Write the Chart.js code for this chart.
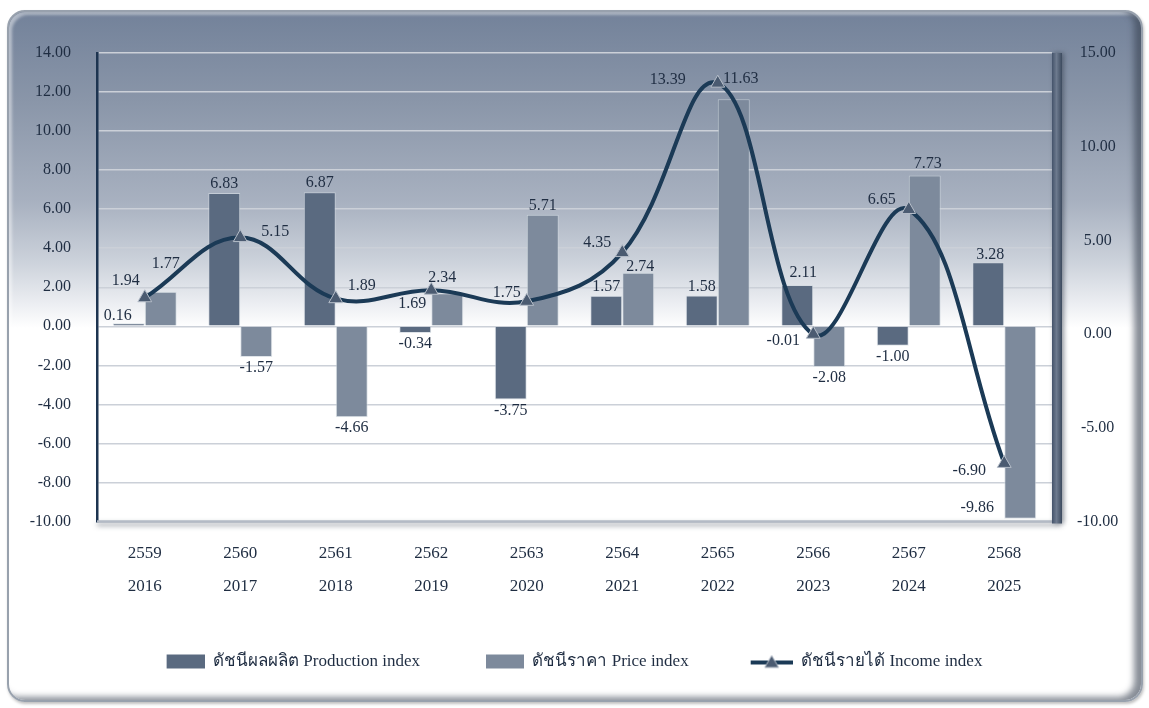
<!DOCTYPE html>
<html>
<head>
<meta charset="utf-8">
<title>ดัชนีผลผลิต ราคา และรายได้</title>
<script src="https://cdn.jsdelivr.net/npm/chart.js@4.4.1/dist/chart.umd.min.js"></script>
<style>
  html, body { margin: 0; padding: 0; background: #fff; }
  #frame {
    position: absolute; left: 7px; top: 10px; width: 1136px; height: 692px;
    box-sizing: border-box; border-radius: 18px; border: 2px solid #98a1ad;
    background: linear-gradient(to bottom, #73829a 0px, #8a96a9 90px, #a8b1c0 190px, #ccd2db 250px, #eceef2 292px, #ffffff 316px, #ffffff 100%);
    box-shadow: inset -7px -3px 6px rgba(55,65,80,0.6), inset 3px 3px 3px rgba(255,255,255,0.45), 1px 2px 3px rgba(0,0,0,0.25);
  }
  #wrap { position: absolute; left: 0; top: 0; width: 1149px; height: 708px; }
</style>
</head>
<body>
<div id="frame"></div>
<div id="wrap"><canvas id="chart1"></canvas></div>
<script>
// ปี พ.ศ. / ค.ศ.
var yearsBE = ['2559', '2560', '2561', '2562', '2563', '2564', '2565', '2566', '2567', '2568'];
var yearsAD = ['2016', '2017', '2018', '2019', '2020', '2021', '2022', '2023', '2024', '2025'];

// อัตราการเปลี่ยนแปลง (%)
var productionIdx = [0.16, 6.83, 6.87, -0.34, -3.75, 1.57, 1.58, 2.11, -1.00, 3.28];
var priceIdx = [1.77, -1.57, -4.66, 1.69, 5.71, 2.74, 11.63, -2.08, 7.73, -9.86];
var incomeIdx = [1.94, 5.15, 1.89, 2.34, 1.75, 4.35, 13.39, -0.01, 6.65, -6.90];

var seriesNames = ['ดัชนีผลผลิต Production index', 'ดัชนีราคา Price index', 'ดัชนีรายได้ Income index'];

// scale ranges
var leftAxis = { min: -10, max: 14, step: 2 };
var rightAxis = { min: -10, max: 15, step: 5 };

// label nudges [dx, dy] so they don't collide
var prodShift = [[-11, 2], [0, 0], [0, 0], [0, 0], [0, 0], [0, 0], [0, 0], [6, -3], [0, 0], [2, 2]];
var priceShift = [[5, -19], [0, 0], [0, 0], [-35, 19], [0, 0], [2, 3], [7, -11], [0, 0], [3, -3], [-43, -22]];
var incomeShift = [[-19, -17], [35, -6], [26, -13], [11, -12], [-20, -9], [-25, -10], [-50, -3], [-30, 7], [-27, -10], [-35, 7]];

var prodColor = '#5a6a80';
var priceColor = '#7d8a9c';
var lineColor = '#1b3a56';
var textColor = '#1f2d42';
var serif = '"Liberation Serif", "Times New Roman", serif';

// legend icons (right aligned inside a wider canvas to space items out)
var iconW = 84;
function boxIcon(color) {
  var c = document.createElement('canvas');
  c.width = iconW; c.height = 16;
  var g = c.getContext('2d');
  g.fillStyle = color;
  g.fillRect(iconW - 38, 1, 38, 14);
  return c;
}
function lineIcon() {
  var c = document.createElement('canvas');
  c.width = iconW; c.height = 16;
  var g = c.getContext('2d');
  g.strokeStyle = lineColor; g.lineWidth = 4;
  g.beginPath(); g.moveTo(iconW - 42, 9); g.lineTo(iconW, 9); g.stroke();
  var cx = iconW - 21;
  g.fillStyle = '#4b5b71'; g.strokeStyle = '#b6bec9'; g.lineWidth = 1;
  g.beginPath(); g.moveTo(cx, 2); g.lineTo(cx + 7, 14); g.lineTo(cx - 7, 14); g.closePath();
  g.fill(); g.stroke();
  return c;
}
var legendIcons = [boxIcon(prodColor), boxIcon(priceColor), lineIcon()];

var valueLabels = {
  id: 'valueLabels',
  afterDatasetsDraw: function (chart) {
    var ctx = chart.ctx;
    ctx.save();
    ctx.font = '16px ' + serif;
    ctx.fillStyle = textColor;
    ctx.textAlign = 'center';
    ctx.textBaseline = 'middle';
    chart.data.datasets.forEach(function (ds, di) {
      var meta = chart.getDatasetMeta(di);
      meta.data.forEach(function (el, i) {
        var v = ds.data[i];
        var s = ds.labelShift[i];
        var y = el.y;
        if (ds.type === 'bar') y += v >= 0 ? -9 : 11;
        ctx.fillText(v.toFixed(2), el.x + s[0], y + s[1]);
      });
    });
    ctx.restore();
  }
};

// pull the legend row a little left (the icons carry blank space on their left)
var legendNudge = {
  id: 'legendNudge',
  afterLayout: function (chart) {
    chart.legend.left -= 23;
    chart.legend.right -= 23;
  }
};

// bottom edge shadow and the right-hand wall of the plot
var plotWalls = {
  id: 'plotWalls',
  beforeDatasetsDraw: function (chart) {
    var a = chart.chartArea, ctx = chart.ctx;
    ctx.save();
    ctx.shadowColor = 'rgba(50,60,75,0.55)';
    ctx.shadowBlur = 5;
    ctx.shadowOffsetY = 3;
    ctx.strokeStyle = '#b3bac5';
    ctx.lineWidth = 2.5;
    ctx.beginPath(); ctx.moveTo(a.left, a.bottom); ctx.lineTo(a.right + 9, a.bottom); ctx.stroke();
    ctx.shadowOffsetY = 0; ctx.shadowOffsetX = 2;
    var g = ctx.createLinearGradient(a.right, 0, a.right + 10, 0);
    g.addColorStop(0, '#44536a');
    g.addColorStop(0.45, '#6d7a8e');
    g.addColorStop(1, '#3c4a5e');
    ctx.fillStyle = g;
    ctx.fillRect(a.right, a.top, 10, a.bottom - a.top + 2);
    ctx.restore();
  }
};

var ctx = document.getElementById('chart1').getContext('2d');
var chart1 = new Chart(ctx, {
  data: {
    labels: yearsBE.map(function (y, i) { return [y, yearsAD[i]]; }),
    datasets: [{
      type: 'bar',
      label: seriesNames[0],
      data: productionIdx,
      labelShift: prodShift,
      backgroundColor: prodColor,
      borderColor: 'rgba(210,216,224,0.7)',
      borderWidth: 1,
      yAxisID: 'y',
      order: 1,
      categoryPercentage: 0.67,
      barPercentage: 1
    }, {
      type: 'bar',
      label: seriesNames[1],
      data: priceIdx,
      labelShift: priceShift,
      backgroundColor: priceColor,
      borderColor: 'rgba(210,216,224,0.7)',
      borderWidth: 1,
      yAxisID: 'y',
      order: 1,
      categoryPercentage: 0.67,
      barPercentage: 1
    }, {
      type: 'line',
      label: seriesNames[2],
      data: incomeIdx,
      labelShift: incomeShift,
      borderColor: lineColor,
      borderWidth: 4,
      tension: 0.4,
      pointStyle: 'triangle',
      pointRadius: 8,
      pointBackgroundColor: '#4b5b71',
      pointBorderColor: '#b6bec9',
      pointBorderWidth: 1,
      yAxisID: 'y1',
      order: 0
    }]
  },
  options: {
    responsive: true,
    maintainAspectRatio: false,
    animation: false,
    layout: { padding: { top: 53, left: 0, right: 0, bottom: 28 } },
    plugins: {
      tooltip: { enabled: false },
      legend: {
        position: 'bottom',
        labels: {
          usePointStyle: true,
          pointStyleWidth: iconW,
          padding: 20,
          color: textColor,
          font: { family: serif, size: 17 },
          generateLabels: function (chart) {
            var items = Chart.defaults.plugins.legend.labels.generateLabels(chart);
            items.sort(function (a, b) { return a.datasetIndex - b.datasetIndex; });
            items.forEach(function (it) { it.pointStyle = legendIcons[it.datasetIndex]; });
            return items;
          }
        }
      }
    },
    scales: {
      x: {
        grid: { display: false, drawTicks: false },
        border: { display: false },
        ticks: { color: textColor, padding: 15, font: { family: serif, size: 17, lineHeight: 1.95 } },
        afterFit: function (s) { s.height = 111.5; }
      },
      y: {
        position: 'left',
        min: leftAxis.min, max: leftAxis.max,
        grid: { color: '#cbd0d8', lineWidth: 1.5, drawTicks: false },
        border: { color: '#1d3450', width: 2.5 },
        ticks: {
          stepSize: leftAxis.step, padding: 26, color: textColor,
          font: { family: serif, size: 16 },
          callback: function (v) { return v.toFixed(2); }
        },
        afterFit: function (s) { s.width = 97; }
      },
      y1: {
        position: 'right',
        min: rightAxis.min, max: rightAxis.max,
        grid: { display: false, drawTicks: false },
        border: { display: false },
        ticks: {
          stepSize: rightAxis.step, padding: 25, color: textColor, crossAlign: 'center',
          font: { family: serif, size: 16 },
          callback: function (v) { return v.toFixed(2); }
        },
        afterFit: function (s) { s.width = 97; }
      }
    }
  },
  plugins: [plotWalls, valueLabels, legendNudge]
});
</script>
</body>
</html>
